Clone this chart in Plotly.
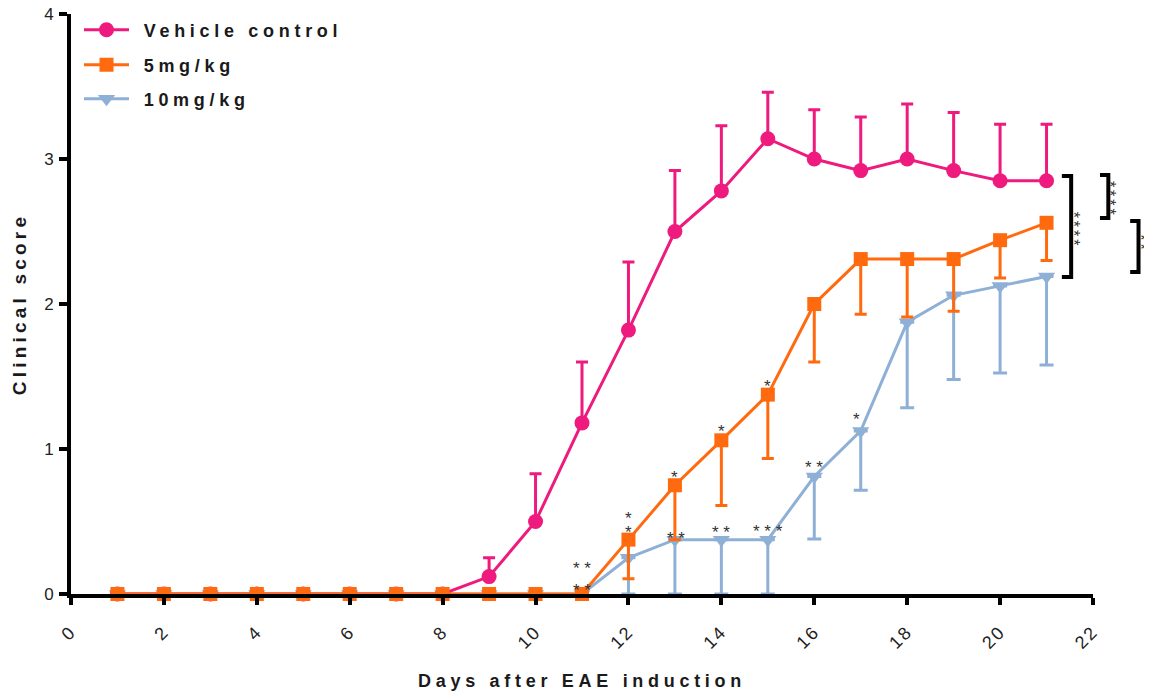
import plotly.graph_objects as go

# ---------------- data ----------------
days = [1, 2, 3, 4, 5, 6, 7, 8, 9, 10, 11, 12, 13, 14, 15, 16, 17, 18, 19, 20, 21]
vehicle = [0, 0, 0, 0, 0, 0, 0, 0, 0.12, 0.5, 1.18, 1.82, 2.5, 2.78, 3.14, 3.0, 2.92, 3.0, 2.92, 2.85, 2.85]
vehicle_err = [0, 0, 0, 0, 0, 0, 0, 0, 0.13, 0.33, 0.42, 0.47, 0.42, 0.45, 0.32, 0.34, 0.37, 0.38, 0.40, 0.39, 0.39]
dose5 = [0, 0, 0, 0, 0, 0, 0, 0, 0, 0, 0, 0.375, 0.75, 1.06, 1.375, 2.0, 2.31, 2.31, 2.31, 2.44, 2.56]
dose5_err = [0, 0, 0, 0, 0, 0, 0, 0, 0, 0, 0, 0.27, 0.375, 0.45, 0.44, 0.40, 0.38, 0.40, 0.36, 0.26, 0.26]
dose10 = [0, 0, 0, 0, 0, 0, 0, 0, 0, 0, 0, 0.25, 0.375, 0.375, 0.375, 0.81, 1.125, 1.875, 2.06, 2.125, 2.19]
dose10_err = [0, 0, 0, 0, 0, 0, 0, 0, 0, 0, 0, 0.25, 0.375, 0.375, 0.375, 0.43, 0.41, 0.59, 0.58, 0.60, 0.61]
zeros = [0] * len(days)

series_names = ["Vehicle control", "5mg/kg", "10mg/kg"]
x_ticks = [0, 2, 4, 6, 8, 10, 12, 14, 16, 18, 20, 22]
y_ticks = [0, 1, 2, 3, 4]

# significance marks: (day, score, text)
star_marks = [
    (11, 0.207, "* *"), (11, 0.062, "* *"),
    (12, 0.553, "*"), (12, 0.456, "*"),
    (13, 0.836, "*"), (14, 1.154, "*"), (15, 1.465, "*"),
    (13.03, 0.42, "* *"), (14, 0.456, "* *"), (15, 0.463, "* * *"),
    (16, 0.91, "* *"), (16.9, 1.24, "*"),
]
# brackets: (x_vertical, x_start, y_top, y_bottom, label, label_x, label_y)
brackets = [
    (21.53, 21.33, 2.883, 2.186, "****", 21.60, 2.51),
    (22.33, 22.15, 2.890, 2.593, "****", 22.36, 2.72),
    (22.98, 22.80, 2.572, 2.220, "**", 23.03, 2.42),
]

X_MAX = 22
Y_MAX = 4

PINK = "#EE1A7D"
ORANGE = "#FF6A0E"
BLUE = "#8FB0D6"
FONT = "Liberation Sans, Arial, sans-serif"


def spaced(txt, sp, bold=True, lead=""):
    if bold:
        txt = "<b>%s</b>" % txt
    return '<span style="letter-spacing:%spx">%s%s</span>' % (sp, lead, txt)


fig = go.Figure()

fig.add_trace(go.Scatter(
    x=days, y=dose10, name=spaced(series_names[2], 4.7, lead="&nbsp;"), mode="lines+markers",
    line=dict(color=BLUE, width=3),
    marker=dict(symbol="triangle-down", size=15, color=BLUE),
    error_y=dict(type="data", symmetric=False, array=zeros, arrayminus=dose10_err,
                 color=BLUE, thickness=3, width=7),
    cliponaxis=False, legend="legend3",
))
fig.add_trace(go.Scatter(
    x=days, y=vehicle, name=spaced(series_names[0], 4.7, lead="&nbsp;"), mode="lines+markers",
    line=dict(color=PINK, width=3),
    marker=dict(symbol="circle", size=15, color=PINK),
    error_y=dict(type="data", symmetric=False, array=vehicle_err, arrayminus=zeros,
                 color=PINK, thickness=3, width=6),
    cliponaxis=False, legend="legend",
))
fig.add_trace(go.Scatter(
    x=days, y=dose5, name=spaced(series_names[1], 4.7, lead="&nbsp;"), mode="lines+markers",
    line=dict(color=ORANGE, width=3),
    marker=dict(symbol="square", size=14, color=ORANGE),
    error_y=dict(type="data", symmetric=False, array=zeros, arrayminus=dose5_err,
                 color=ORANGE, thickness=3, width=6),
    cliponaxis=False, legend="legend2",
))

annotations = []
for d, s, t in star_marks:
    annotations.append(dict(x=d, y=s, xref="x", yref="y", text=t, showarrow=False,
                            font=dict(family=FONT, size=17, color="#333333"),
                            xanchor="center", yanchor="middle", yshift=-5))

shapes = []
for xv, xs, yt, yb, lab, lx, ly in brackets:
    path = "M %f %f L %f %f L %f %f L %f %f" % (
        xs / X_MAX, yt / Y_MAX, xv / X_MAX, yt / Y_MAX,
        xv / X_MAX, yb / Y_MAX, xs / X_MAX, yb / Y_MAX)
    shapes.append(dict(type="path", path=path, xref="paper", yref="paper",
                       line=dict(color="black", width=4)))
    annotations.append(dict(x=lx / X_MAX, y=ly / Y_MAX, xref="paper", yref="paper",
                            text=spaced(lab, 3, bold=False), showarrow=False, textangle=90,
                            font=dict(family=FONT, size=16, color="#333333"),
                            xanchor="center", yanchor="middle"))

legend_common = dict(bgcolor="rgba(0,0,0,0)", borderwidth=0, xanchor="left", yanchor="middle",
                     font=dict(family=FONT, size=18, color="#1a1a1a"), itemwidth=45)

# the page body adds an 8px offset; the figure is sized to fit the window
PLOT_H = 580.0
LEG_X = 8 / 1022.0
fig.update_layout(
    width=1144, height=684,
    margin=dict(l=63, r=59, t=6, b=98, autoexpand=False),
    paper_bgcolor="white", plot_bgcolor="white",
    font=dict(family=FONT, color="#1a1a1a"),
    showlegend=True,
    legend=dict(x=LEG_X, y=(580 - 16) / PLOT_H, **legend_common),
    legend2=dict(x=LEG_X, y=(580 - 51) / PLOT_H, **legend_common),
    legend3=dict(x=LEG_X, y=(580 - 85) / PLOT_H, **legend_common),
    xaxis=dict(range=[0, X_MAX], tickvals=x_ticks,
               ticktext=[spaced(str(v), 2, bold=False) for v in x_ticks],
               tickangle=-45, showgrid=False, zeroline=False, automargin=False,
               showline=True, linecolor="black", linewidth=4,
               ticks="outside", ticklen=7, tickwidth=4, tickcolor="black",
               ticklabelstandoff=9, ticklabeloverflow="allow",
               tickfont=dict(family=FONT, size=18, color="#222222"),
               title=dict(text=spaced("Days after EAE induction", 4.7),
                          font=dict(family=FONT, size=18, color="#1a1a1a"), standoff=24)),
    yaxis=dict(range=[0, Y_MAX], tickvals=y_ticks, ticktext=[str(v) for v in y_ticks],
               showgrid=False, zeroline=False, automargin=False,
               showline=True, linecolor="black", linewidth=4,
               ticks="outside", ticklen=8, tickwidth=4, tickcolor="black",
               ticklabelstandoff=2, ticklabeloverflow="allow",
               tickfont=dict(family=FONT, size=17, color="#222222"),
               title=dict(text=spaced("Clinical score", 4.2),
                          font=dict(family=FONT, size=19, color="#1a1a1a"), standoff=13)),
    annotations=annotations,
    shapes=shapes,
)

fig.write_html("out.html")
